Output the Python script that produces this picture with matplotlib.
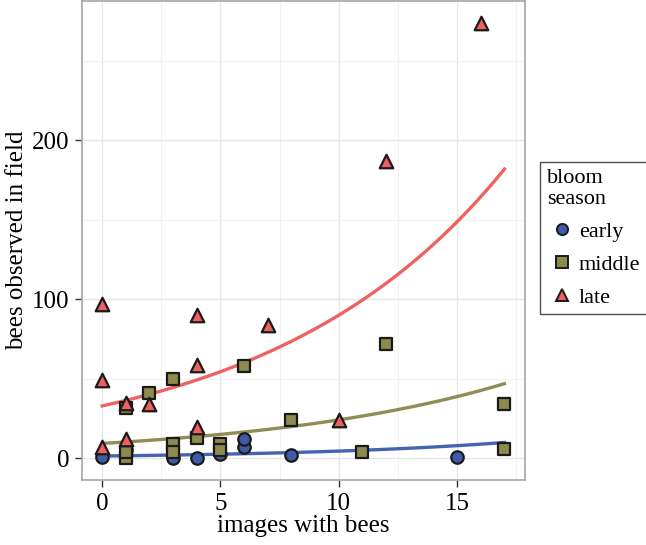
import matplotlib
matplotlib.use("Agg")
import matplotlib.pyplot as plt
from matplotlib.lines import Line2D
import numpy as np

plt.rcParams['font.family'] = ['Liberation Serif', 'DejaVu Serif']

# data
early_x = [0, 1, 3, 4, 5, 6, 6, 8, 15]
early_y = [1, 5, 0, 0, 3, 7, 12, 2, 1]

middle_x = [1, 1, 1, 2, 3, 3, 3, 4, 5, 5, 6, 8, 11, 12, 17, 17]
middle_y = [0, 4, 32, 41, 50, 9, 4, 13, 9, 5, 58, 24, 4, 72, 34, 6]

late_x = [0, 0, 0, 1, 1, 2, 4, 4, 4, 7, 10, 12, 16]
late_y = [97, 49, 7, 12, 35, 34, 90, 59, 20, 84, 24, 187, 274]

# fitted trend (exponential) read as value at x=0 and x=17
trend_start = [1.5, 9.4, 33]
trend_end = [10, 47, 182]

seasons = ['early', 'middle', 'late']
fill = ['#3F5AA8', '#8C8A4E', '#EE5F5F']
line_col = ['#4463B0', '#8F8D55', '#EC6462']
markers = ['o', 's', '^']
sizes = [80, 80, 95]

fig = plt.figure(figsize=(6.46, 5.45), dpi=100)
ax = fig.add_axes([0.127, 0.119, 0.685, 0.879])

ax.set_xlim(-0.85, 17.85)
ax.set_ylim(-13.7, 287.7)
ax.set_xticks([0, 5, 10, 15])
ax.set_yticks([0, 100, 200])
ax.set_xticks([2.5, 7.5, 12.5, 17.5], minor=True)
ax.set_yticks([50, 150, 250], minor=True)
ax.grid(which='major', color='#E6E6E6', linewidth=1.0)
ax.grid(which='minor', color='#F2F2F2', linewidth=0.8)
ax.set_axisbelow(True)
ax.tick_params(which='minor', length=0)
ax.tick_params(which='major', length=5, width=1, color='#333333',
               labelsize=18, pad=4)
for s in ax.spines.values():
    s.set_color('#A6A6A6')
    s.set_linewidth(1.2)

xs_all = [early_x, middle_x, late_x]
ys_all = [early_y, middle_y, late_y]

xx = np.linspace(0, 17, 100)
for i in range(3):
    b = np.log(trend_end[i] / trend_start[i]) / 17
    ax.plot(xx, trend_start[i] * np.exp(b * xx), color=line_col[i], lw=2.4,
            zorder=2)

for i in range(3):
    ax.scatter(xs_all[i], ys_all[i], marker=markers[i], s=sizes[i],
               facecolor=fill[i], edgecolor='#1A1A1A', linewidth=1.6,
               zorder=3)

ax.set_xlabel('images with bees', fontsize=18, labelpad=0)
ax.set_ylabel('bees observed in field', fontsize=18, labelpad=3)

handles = [Line2D([], [], linestyle='none', marker=markers[i],
                  markersize=8, markerfacecolor=fill[i],
                  markeredgecolor='#1A1A1A', markeredgewidth=1.4)
           for i in range(3)]
leg = fig.legend(handles, seasons, title='bloom\nseason',
                 loc='upper left', bbox_to_anchor=(0.836, 0.703),
                 fontsize=16, title_fontsize=16, frameon=True,
                 fancybox=False, edgecolor='#222222', handlelength=1.4,
                 handletextpad=0.05, labelspacing=0.55, borderpad=0.3,
                 borderaxespad=0, alignment='left')
leg.get_frame().set_linewidth(1.0)

fig.savefig('out.png', dpi=100)
